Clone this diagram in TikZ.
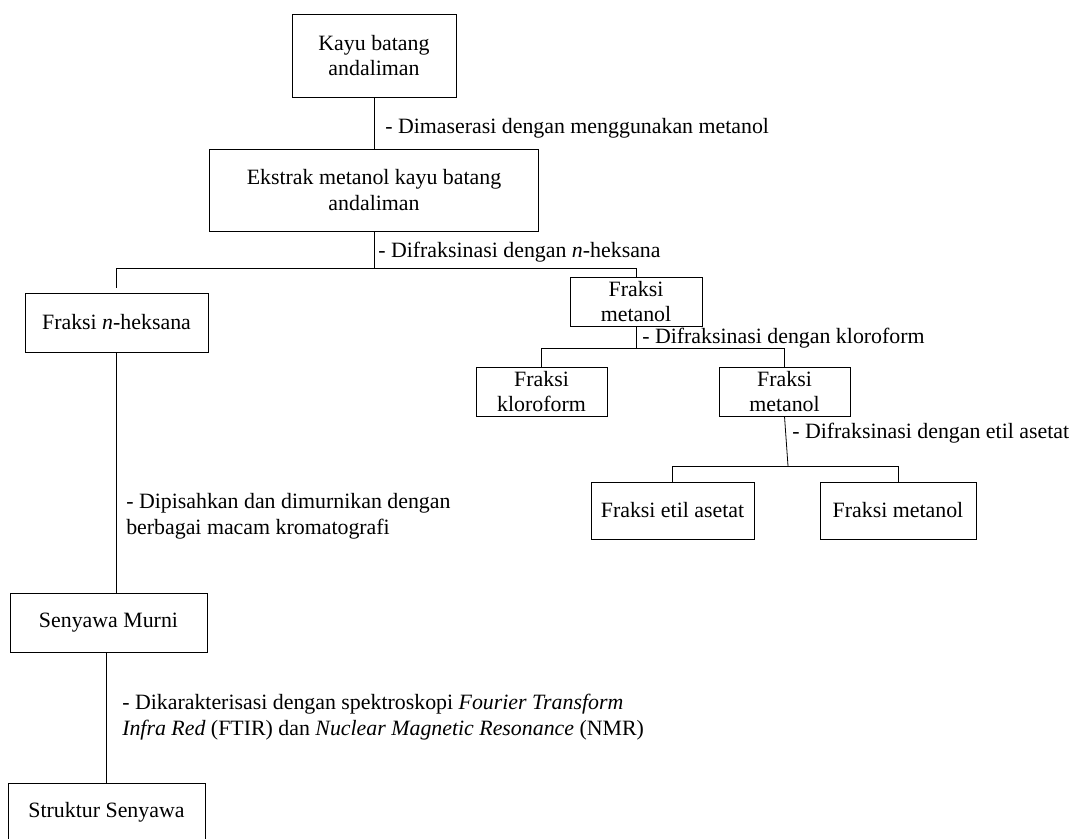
\documentclass[tikz,border=0pt]{standalone}
\usepackage{fontspec}
\setmainfont{Liberation Serif}
\begin{document}
\begin{tikzpicture}[x=0.75pt,y=-0.75pt,
  txt/.style={font=\fontsize{16.4}{19.3}\selectfont},
  box/.style={txt, draw=black, line width=0.7pt, inner sep=0pt, align=center, fill=white},
  lbl/.style={txt, anchor=west, align=left, inner sep=0pt},
  conn/.style={draw=black, line width=0.6pt}]
\clip (0,0) rectangle (1069,838);
% boxes
\node[box, minimum width=123pt, minimum height=62.25pt] (kayu) at (374,55.5) {Kayu batang\\andaliman};
\node[box, minimum width=246.75pt, minimum height=61.5pt] (ekstrak) at (374,190) {Ekstrak metanol kayu batang\\andaliman};
\node[box, minimum width=137.25pt, minimum height=44.25pt] (nheks) at (116.5,322.5) {Fraksi \textit{n}-heksana};
\node[box, minimum width=99pt, minimum height=36.75pt] (fm1) at (636,301.5) {Fraksi\\metanol};
\node[box, minimum width=98.25pt, minimum height=36.75pt] (kloro) at (541.5,391.5) {Fraksi\\kloroform};
\node[box, minimum width=98.25pt, minimum height=36.75pt] (fm2) at (784.5,391.5) {Fraksi\\metanol};
\node[box, minimum width=122.25pt, minimum height=42.75pt] (etil) at (672.5,510.5) {Fraksi etil asetat};
\node[box, minimum width=117pt, minimum height=42.75pt] (fm3) at (898,510.5) {Fraksi metanol};
\node[box, minimum width=147.75pt, minimum height=44.25pt] (murni) at (108.5,622.5) {Senyawa Murni};
\node[box, minimum width=147.75pt, minimum height=44.25pt] (struktur) at (106.5,812.5) {Struktur Senyawa};
% junctions
\coordinate (j1) at (374,268);
\coordinate (j2) at (636,348);
\coordinate (j3) at (788,466);
% connectors
\draw[conn] (kayu.south) -- (ekstrak.north);
\draw[conn] (ekstrak.south) -- (j1);
\draw[conn] (nheks.north |- j1) -- (fm1.north |- j1);
\draw[conn, shorten >=3.75pt] (nheks.north |- j1) -- (nheks.north);
\draw[conn] (fm1.north |- j1) -- (fm1.north);
\draw[conn] (fm1.south) -- (j2);
\draw[conn] (kloro.north |- j2) -- (fm2.north |- j2);
\draw[conn] (kloro.north |- j2) -- (kloro.north);
\draw[conn] (fm2.north |- j2) -- (fm2.north);
\draw[conn] (fm2.south) -- (j3);
\draw[conn] (etil.north |- j3) -- (fm3.north |- j3);
\draw[conn] (etil.north |- j3) -- (etil.north);
\draw[conn] (fm3.north |- j3) -- (fm3.north);
\draw[conn] (nheks.south) -- (nheks.south |- murni.north);
\draw[conn] (struktur.north |- murni.south) -- (struktur.north);
% labels
\node[lbl] (l1) at (385,128) {- Dimaserasi dengan menggunakan metanol};
\node[lbl] (l2) at (378,252) {- Difraksinasi dengan \textit{n}-heksana};
\node[lbl] (l3) at (642,338) {- Difraksinasi dengan kloroform};
\node[lbl] (l4) at (792,433) {- Difraksinasi dengan etil asetat};
\node[lbl] (l5) at (126,516.5) {- Dipisahkan dan dimurnikan dengan\\berbagai macam kromatografi};
\node[lbl] (l6) at (122,717) {- Dikarakterisasi dengan spektroskopi \textit{Fourier Transform}\\\textit{Infra Red} (FTIR) dan \textit{Nuclear Magnetic Resonance} (NMR)};
\end{tikzpicture}
\end{document}
